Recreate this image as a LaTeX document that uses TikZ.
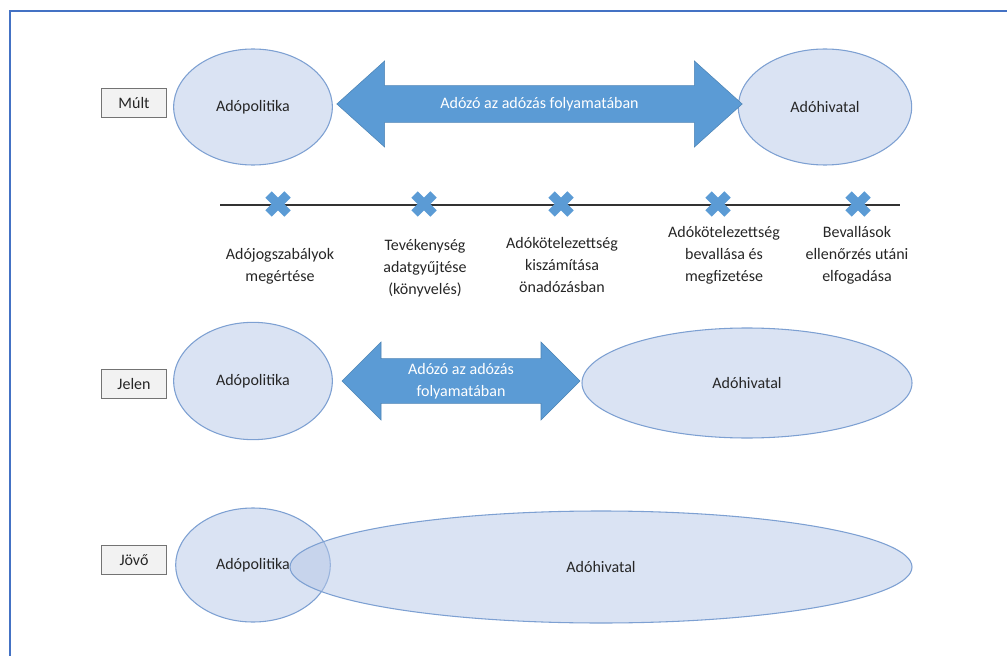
\documentclass[tikz,border=0pt]{standalone}
\usepackage{fontspec}
\setmainfont{Carlito}
\usetikzlibrary{positioning}
\usetikzlibrary{shapes.geometric,shapes.arrows}
\definecolor{keretkek}{RGB}{68,114,196}
\definecolor{ellkitolt}{RGB}{218,227,243}
\definecolor{ellszel}{RGB}{125,160,210}
\definecolor{nyilkek}{RGB}{91,155,213}
\definecolor{dobozszurke}{RGB}{242,242,242}
\definecolor{szoveg}{RGB}{38,38,38}
\tikzset{
	korszak/.style={
		rectangle,
		fill=dobozszurke,
		draw=black!55, thick,
		minimum width=49pt,
		minimum height=22pt,
		inner sep=0pt,
		text=szoveg},
	szereplo/.style={
		ellipse,
		fill=ellkitolt,
		draw=ellszel, thick,
		inner sep=0pt,
		text=szoveg},
	folyamat/.style={
		double arrow,
		fill=nyilkek,
		draw=nyilkek!85!black,
		text=white,
		align=center,
		inner sep=2pt},
	lepes/.style={
		line width=6.75pt,
		draw=nyilkek},
	cimke/.style={
		align=center,
		text=szoveg},
}
\begin{document}
\begin{tikzpicture}
	[x=0.75pt,y=-0.75pt,font=\fontsize{12}{16.5}\selectfont]
	\useasboundingbox (0,0) rectangle (1007,656);
	% keret
	\draw[keretkek, line width=2.2pt] (10,656) -- (10,11) -- (1007,11);

	% Mult
	\node[korszak] (mult) at (134,103) {Múlt};
	\node[szereplo, minimum width=119pt, minimum height=87pt] (politika1) at (253,107) {Adópolitika};
	\node[szereplo, minimum width=130pt, minimum height=87pt] (hivatal1) at (825,107) {Adóhivatal};
	\node[folyamat, inner ysep=7pt, minimum height=304pt, minimum width=64.5pt,
		double arrow head extend=16.5pt, double arrow tip angle=84] (adozo1) at (539.5,104) {Adózó az adózás folyamatában};

	% idovonal
	\coordinate (tengely0) at (220,205);
	\coordinate (tengely1) at (900,205);
	\draw[black!80, line width=1pt] (tengely0) -- (tengely1);
	\foreach \nev/\xx in {lepes1/278, lepes2/424, lepes3/561, lepes4/718, lepes5/858} {
		\coordinate (\nev) at (\xx,204);
		\draw[lepes] ([shift={(-9.5,-9.5)}]\nev) -- ([shift={(9.5,9.5)}]\nev);
		\draw[lepes] ([shift={(-9.5,9.5)}]\nev) -- ([shift={(9.5,-9.5)}]\nev);
	}
	\node[cimke] (cimke1) at (280,266) {Adójogszabályok\\megértése};
	\node[cimke] (cimke2) at (425,268) {Tevékenység\\adatgyűjtése\\(könyvelés)};
	\node[cimke] (cimke3) at (562,265) {Adókötelezettség\\kiszámítása\\önadózásban};
	\node[cimke] (cimke4) at (724,255) {Adókötelezettség\\bevallása és\\megfizetése};
	\node[cimke] (cimke5) at (857,255) {Bevallások\\ellenőrzés utáni\\elfogadása};

	% Jelen
	\node[korszak] (jelen) at (134,384) {Jelen};
	\node[szereplo, minimum width=119pt, minimum height=88pt] (politika2) at (253,381) {Adópolitika};
	\node[szereplo, minimum width=247.5pt, minimum height=82.5pt] (hivatal2) at (747,383) {Adóhivatal};
	\node[folyamat, minimum height=178.5pt, minimum width=58.5pt,
		double arrow head extend=11.6pt] (adozo2) at (461,381) {Adózó az adózás\\folyamatában};

	% Jovo
	\node[korszak] (jovo) at (134,560) {Jövő};
	\node[szereplo, minimum width=116pt, minimum height=85.5pt] (politika3) at (253,565) {Adópolitika};
	\node[szereplo, fill={rgb,255:red,181;green,199;blue,231}, fill opacity=0.5, text opacity=1,
		minimum width=466.5pt, minimum height=84pt] (hivatal3) at (601,567) {Adóhivatal};
\end{tikzpicture}
\end{document}
